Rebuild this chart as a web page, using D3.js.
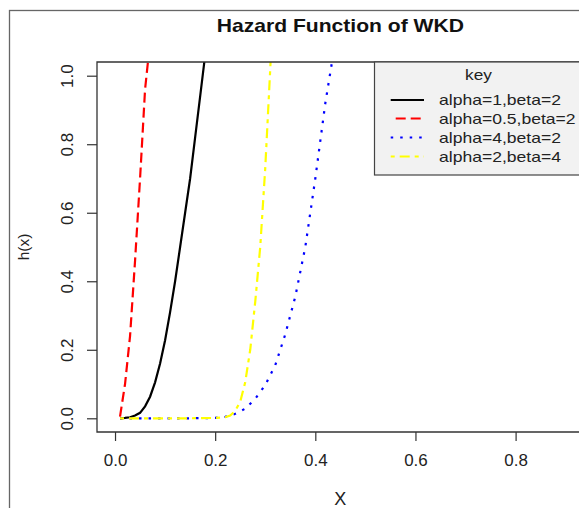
<!DOCTYPE html>
<html>
<head>
<meta charset="utf-8">
<script src="https://cdn.jsdelivr.net/npm/d3@7"></script>
<style>
  body { margin: 0; background: #fff; }
  svg { display: block; font-family: "Liberation Sans", Arial, sans-serif; }
</style>
</head>
<body>
<div id="hazard"></div>
<script>
const WIDTH = 579, HEIGHT = 508;
const PLOT = { LEFT: 97, TOP: 62, RIGHT: 583.7, BOTTOM: 432 };

// values
const keyLabels = ["alpha=1,beta=2", "alpha=0.5,beta=2", "alpha=4,beta=2", "alpha=2,beta=4"];

const x_a1b2 = [0.01, 0.02, 0.03, 0.04, 0.05, 0.06, 0.07, 0.08, 0.09, 0.10, 0.11, 0.12, 0.13, 0.14, 0.15, 0.16, 0.17, 0.18];
const h_a1b2 = [0, 0.001, 0.003, 0.008, 0.016, 0.035, 0.063, 0.105, 0.16, 0.228, 0.31, 0.40, 0.50, 0.60, 0.70, 0.82, 0.94, 1.06];

const x_a05b2 = [0.01, 0.02, 0.03, 0.04, 0.05, 0.06, 0.07];
const h_a05b2 = [0.005, 0.10, 0.24, 0.46, 0.70, 0.96, 1.10];

const x_a4b2 = [0.01, 0.05, 0.10, 0.15, 0.20, 0.22, 0.24, 0.26, 0.28, 0.30, 0.32, 0.34, 0.36, 0.38, 0.40, 0.42, 0.44];
const h_a4b2 = [0, 0, 0, 0, 0.001, 0.004, 0.013, 0.028, 0.057, 0.097, 0.155, 0.245, 0.355, 0.50, 0.70, 0.92, 1.10];

const x_a2b4 = [0.01, 0.05, 0.10, 0.15, 0.20, 0.22, 0.23, 0.24, 0.25, 0.26, 0.27, 0.28, 0.29, 0.30, 0.31, 0.32];
const h_a2b4 = [0, 0, 0, 0, 0.001, 0.003, 0.008, 0.022, 0.048, 0.105, 0.20, 0.34, 0.50, 0.73, 1.02, 1.35];

const X_TICKS = [0, 0.2, 0.4, 0.6, 0.8];
const Y_TICKS = [0, 0.2, 0.4, 0.6, 0.8, 1.0];

// line styles, same order as keyLabels
const colors = ["#000000", "#ff0000", "#0000ff", "#ffff00"];
const dashes = [null, "10,5", "2.5,7", "4,5,10,5"];

const series = [
  { x: x_a1b2, h: h_a1b2 },
  { x: x_a05b2, h: h_a05b2 },
  { x: x_a4b2, h: h_a4b2 },
  { x: x_a2b4, h: h_a2b4 }
].map((s, i) => ({
  name: keyLabels[i],
  color: colors[i],
  dash: dashes[i],
  points: s.x.map((v, j) => [v, s.h[j]])
}));

// stretch text a bit wider, the picture is a little widened
function stretch(sel, k) {
  sel.each(function () {
    const len = this.getComputedTextLength();
    d3.select(this).attr("textLength", len * k).attr("lengthAdjust", "spacingAndGlyphs");
  });
}

const svg = d3.select("#hazard")
  .append("svg")
  .attr("width", WIDTH)
  .attr("height", HEIGHT);

svg.append("rect")
  .attr("width", WIDTH)
  .attr("height", HEIGHT)
  .attr("fill", "#fff");

// outer frame (cut off on the right and bottom)
svg.append("rect")
  .attr("x", 9.5)
  .attr("y", 10.5)
  .attr("width", 700)
  .attr("height", 600)
  .attr("fill", "none")
  .attr("stroke", "#666")
  .attr("stroke-width", 1.3);

// x range 0..0.9, y range 0..1, each padded 4% like R does
const xScale = d3.scaleLinear()
  .domain([-0.036, 0.936])
  .range([PLOT.LEFT, PLOT.RIGHT]);

const yScale = d3.scaleLinear()
  .domain([-0.04, 1.04])
  .range([PLOT.BOTTOM, PLOT.TOP]);

svg.append("clipPath")
  .attr("id", "plot-clip")
  .append("rect")
  .attr("x", PLOT.LEFT)
  .attr("y", PLOT.TOP)
  .attr("width", PLOT.RIGHT - PLOT.LEFT)
  .attr("height", PLOT.BOTTOM - PLOT.TOP);

const line = d3.line()
  .x(d => xScale(d[0]))
  .y(d => yScale(d[1]));

svg.append("g")
  .attr("clip-path", "url(#plot-clip)")
  .selectAll("path")
  .data(series)
  .enter().append("path")
  .attr("d", d => line(d.points))
  .attr("fill", "none")
  .attr("stroke", d => d.color)
  .attr("stroke-width", 2.2)
  .attr("stroke-dasharray", d => d.dash);

// box
svg.append("path")
  .attr("d", `M${PLOT.RIGHT},${PLOT.TOP}H${PLOT.LEFT}V${PLOT.BOTTOM}H${PLOT.RIGHT}`)
  .attr("fill", "none")
  .attr("stroke", "#333")
  .attr("stroke-width", 1.3);

// x axis
const xAxis = svg.append("g")
  .attr("transform", `translate(0, ${PLOT.BOTTOM})`)
  .call(d3.axisBottom(xScale).tickValues(X_TICKS).tickFormat(d3.format(".1f")).tickSize(9).tickPadding(14))
  .attr("font-size", null)
  .attr("font-family", null)
  .attr("color", "#333");
xAxis.select(".domain").remove();
xAxis.selectAll("line").attr("stroke-width", 1.2);
xAxis.selectAll("text")
  .attr("font-size", "16px")
  .attr("fill", "#222")
  .call(stretch, 1.06);

// y axis, labels turned like R does
const yAxis = svg.append("g")
  .attr("transform", `translate(${PLOT.LEFT}, 0)`)
  .call(d3.axisLeft(yScale).tickValues(Y_TICKS).tickFormat(d3.format(".1f")).tickSize(10))
  .attr("font-size", null)
  .attr("font-family", null)
  .attr("color", "#333");
yAxis.select(".domain").remove();
yAxis.selectAll("line").attr("stroke-width", 1.2);
yAxis.selectAll("text")
  .attr("transform", "rotate(-90)")
  .attr("x", 0)
  .attr("y", -24)
  .attr("dy", null)
  .attr("text-anchor", "middle")
  .attr("font-size", "17px")
  .attr("fill", "#222");

// title and axis labels
svg.append("text")
  .attr("x", (PLOT.LEFT + PLOT.RIGHT) / 2)
  .attr("y", 31.7)
  .attr("text-anchor", "middle")
  .attr("font-size", "19px")
  .attr("font-weight", "bold")
  .attr("fill", "#111")
  .text("Hazard Function of WKD")
  .call(stretch, 1.11);

svg.append("text")
  .attr("x", (PLOT.LEFT + PLOT.RIGHT) / 2)
  .attr("y", 505)
  .attr("text-anchor", "middle")
  .attr("font-size", "18px")
  .attr("fill", "#222")
  .text("X");

svg.append("text")
  .attr("transform", `translate(28.7, ${(PLOT.TOP + PLOT.BOTTOM) / 2}) rotate(-90)`)
  .attr("text-anchor", "middle")
  .attr("font-size", "15.5px")
  .attr("fill", "#222")
  .text("h(x)");

// legend
const legend = svg.append("g");

legend.append("rect")
  .attr("x", 374.5)
  .attr("y", PLOT.TOP)
  .attr("width", 215)
  .attr("height", 113)
  .attr("fill", "#f2f2f2")
  .attr("stroke", "#444")
  .attr("stroke-width", 1.2);

legend.append("text")
  .attr("x", 478.5)
  .attr("y", 80)
  .attr("text-anchor", "middle")
  .attr("font-size", "15px")
  .attr("fill", "#222")
  .text("key")
  .call(stretch, 1.15);

const rowY = [100, 118.5, 137.5, 156.5];

const rows = legend.selectAll(".key-row")
  .data(series)
  .enter().append("g")
  .attr("class", "key-row")
  .attr("transform", (d, i) => `translate(0, ${rowY[i]})`);

rows.append("line")
  .attr("x1", 390.7)
  .attr("x2", 424)
  .attr("stroke", d => d.color)
  .attr("stroke-width", 2.2)
  .attr("stroke-dasharray", d => d.dash)
  .attr("stroke-dashoffset", (d, i) => i === 1 ? 10 : 0);

rows.append("text")
  .attr("x", 439)
  .attr("dy", "0.35em")
  .attr("font-size", "15px")
  .attr("fill", "#222")
  .text(d => d.name)
  .call(stretch, 1.17);
</script>
</body>
</html>
